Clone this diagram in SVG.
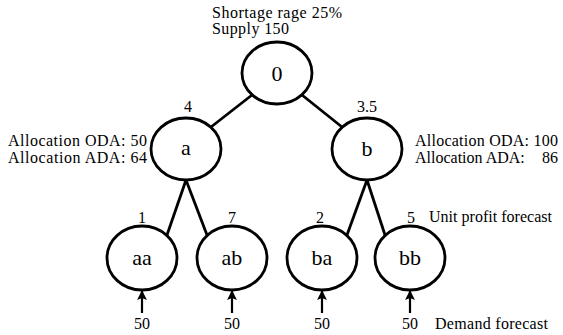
<svg xmlns="http://www.w3.org/2000/svg" width="563" height="335" viewBox="0 0 563 335">
<defs>
<marker id="ah" viewBox="0 0 10 10" refX="9" refY="5" markerWidth="4.5" markerHeight="4.5" orient="auto" markerUnits="strokeWidth">
<path d="M0,0 L10,5 L0,10 L2,5 Z" fill="#000"/>
</marker>
</defs>
<g id="connectors" stroke="#000" stroke-width="2.8" fill="none">
<line x1="252" y1="95" x2="211" y2="127"/>
<line x1="302" y1="95" x2="342" y2="127"/>
<line x1="186" y1="180" x2="167" y2="235"/>
<line x1="186" y1="180" x2="207" y2="235"/>
<line x1="367" y1="180" x2="347" y2="235"/>
<line x1="367" y1="180" x2="385" y2="235"/>
<g stroke-width="2.2" marker-end="url(#ah)">
<line x1="142" y1="313" x2="142" y2="291"/>
<line x1="232" y1="313" x2="232" y2="291"/>
<line x1="322" y1="313" x2="322" y2="291"/>
<line x1="410" y1="313" x2="410" y2="291"/>
</g>
</g>
<g id="root">
<ellipse cx="277" cy="73" rx="35" ry="31" fill="#fff" stroke="#000" stroke-width="2.8"/>
<text font-family="Liberation Serif" font-size="22" text-anchor="middle" x="277" y="81">0</text>
<text font-family="Liberation Serif" font-size="16" x="212" y="18" textLength="130">Shortage rage 25%</text>
<text font-family="Liberation Serif" font-size="16" x="212" y="34" textLength="77">Supply 150</text>
</g>
<g id="a">
<ellipse cx="186" cy="149" rx="35" ry="31" fill="#fff" stroke="#000" stroke-width="2.8"/>
<text font-family="Liberation Serif" font-size="22" text-anchor="middle" x="186" y="155">a</text>
<text font-family="Liberation Serif" font-size="16" text-anchor="middle" x="188" y="112">4</text>
<text font-family="Liberation Serif" font-size="16" x="8" y="146" textLength="139">Allocation ODA: 50</text>
<text font-family="Liberation Serif" font-size="16" x="8" y="163" textLength="139">Allocation ADA: 64</text>
</g>
<g id="b">
<ellipse cx="367" cy="149" rx="35" ry="31" fill="#fff" stroke="#000" stroke-width="2.8"/>
<text font-family="Liberation Serif" font-size="22" text-anchor="middle" x="367" y="156">b</text>
<text font-family="Liberation Serif" font-size="16" text-anchor="middle" x="367" y="112">3.5</text>
<text font-family="Liberation Serif" font-size="16" x="415" y="146" textLength="143">Allocation ODA: 100</text>
<text font-family="Liberation Serif" font-size="16" x="415" y="163">Allocation ADA:<tspan text-anchor="end" x="558">86</tspan></text>
</g>
<g id="aa">
<ellipse cx="142" cy="258" rx="35" ry="32" fill="#fff" stroke="#000" stroke-width="2.8"/>
<text font-family="Liberation Serif" font-size="22" text-anchor="middle" x="142" y="265">aa</text>
<text font-family="Liberation Serif" font-size="16" text-anchor="middle" x="142" y="223">1</text>
<text font-family="Liberation Serif" font-size="16" text-anchor="middle" x="142" y="329">50</text>
</g>
<g id="ab">
<ellipse cx="232" cy="258" rx="35" ry="32" fill="#fff" stroke="#000" stroke-width="2.8"/>
<text font-family="Liberation Serif" font-size="22" text-anchor="middle" x="232" y="265">ab</text>
<text font-family="Liberation Serif" font-size="16" text-anchor="middle" x="232" y="223">7</text>
<text font-family="Liberation Serif" font-size="16" text-anchor="middle" x="232" y="329">50</text>
</g>
<g id="ba">
<ellipse cx="322" cy="258" rx="35" ry="32" fill="#fff" stroke="#000" stroke-width="2.8"/>
<text font-family="Liberation Serif" font-size="22" text-anchor="middle" x="322" y="265">ba</text>
<text font-family="Liberation Serif" font-size="16" text-anchor="middle" x="320" y="223">2</text>
<text font-family="Liberation Serif" font-size="16" text-anchor="middle" x="322" y="329">50</text>
</g>
<g id="bb">
<ellipse cx="410" cy="258" rx="35" ry="32" fill="#fff" stroke="#000" stroke-width="2.8"/>
<text font-family="Liberation Serif" font-size="22" text-anchor="middle" x="410" y="265">bb</text>
<text font-family="Liberation Serif" font-size="16" text-anchor="middle" x="411" y="223">5</text>
<text font-family="Liberation Serif" font-size="16" text-anchor="middle" x="410" y="329">50</text>
</g>
<g id="legend">
<text font-family="Liberation Serif" font-size="16" x="429" y="222" textLength="123">Unit profit forecast</text>
<text font-family="Liberation Serif" font-size="16" x="435" y="329" textLength="113">Demand forecast</text>
</g>
</svg>
